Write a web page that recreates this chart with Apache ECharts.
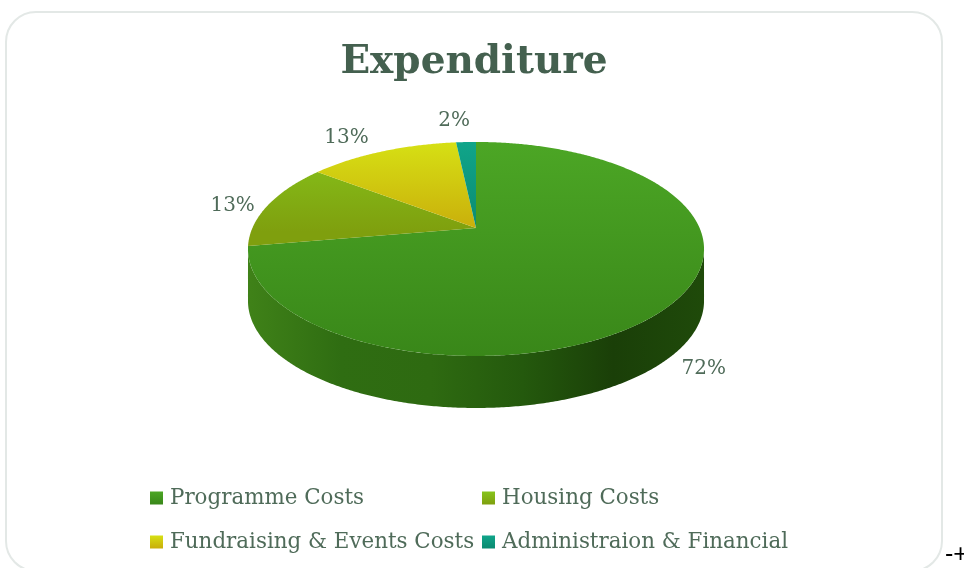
<!DOCTYPE html>
<html><head><meta charset="utf-8">
<style>html,body{margin:0;padding:0;background:#fff;overflow:hidden}#c{width:964px;height:568px}</style>
<script src="https://cdn.jsdelivr.net/npm/echarts@6/dist/echarts.min.js"></script>
</head><body><div id="c"></div>
<script>
const categories = ['Programme Costs', 'Housing Costs', 'Fundraising & Events Costs', 'Administraion & Financial'];
const values = [72.3, 13.1, 12.9, 1.7];
const valueLabels = ['72%', '13%', '13%', '2%'];
const topColors = ['#4ca625', '#86c41c', '#d6e014', '#10a58a'];
const bottomColors = ['#398719', '#7f9f0e', '#c9ad0b', '#0a8a70'];
const labelOffsets = [[32, 65], [-36, 1], [-36, -14], [-12, -21]];

const ink = '#4f6b59';
const serif = '"DejaVu Serif", serif';
const cx = 476, cy = 228, b = 223.6, a = 102.9, k = 0.196, depth = 52;
const total = values.reduce((s, v) => s + v, 0);
const starts = values.map((v, i) => values.slice(0, i).reduce((s, x) => s + x, 0) / total * 360);
const rad = d => d * Math.PI / 180;
// perspective projection of the pie's unit circle, angle clockwise from top
function project(deg, dy) {
  const u = Math.sin(rad(deg)), v = Math.cos(rad(deg)), w = 1 + k * v;
  return [cx + b * u / w, cy - a * v / w + (dy || 0)];
}
const tR = Math.acos(-k) * 180 / Math.PI, tL = 360 - tR;
function grad(x, y, x2, y2, stops) {
  return { type: 'linear', x, y, x2, y2, global: true,
    colorStops: stops.map((c, i) => ({ offset: i / (stops.length - 1), color: c })) };
}
const sideFill = grad(250, 0, 704, 0, ['#3f8118', '#2f6d12', '#2e6a11', '#24590d', '#1a3f08', '#1f4a0a']);
function arc(from, to, dy) {
  const n = Math.max(2, Math.ceil(Math.abs(to - from) * 2)), out = [];
  for (let i = 0; i <= n; i++) out.push(project(from + (to - from) * i / n, dy));
  return out;
}
function renderSlice(idx) {
  return function () {
    const s = starts[idx], e = s + values[idx] / total * 360, kids = [];
    const sa = Math.max(s, tR), ea = Math.min(e, tL);
    if (ea > sa) {
      kids.push({ type: 'polygon', shape: { points: arc(sa, ea, depth).concat(arc(ea, sa, 0)) },
        style: { fill: sideFill } });
    }
    kids.push({ type: 'polygon', shape: { points: [[cx, cy]].concat(arc(s, e, 0)) },
      style: { fill: grad(0, 142, 0, idx === 0 ? 356 : 232, [topColors[idx], bottomColors[idx]]) } });
    const m = project((s + e) / 2);
    kids.push({ type: 'text', z2: 20, style: { text: valueLabels[idx],
      x: m[0] + labelOffsets[idx][0], y: m[1] + labelOffsets[idx][1],
      fill: ink, font: '20px ' + serif, align: 'center', verticalAlign: 'middle' } });
    return { type: 'group', children: kids };
  };
}
const series = categories.map((name, i) => ({
  type: 'custom', name, coordinateSystem: 'none', silent: true,
  data: [[values[i]]], renderItem: renderSlice(i),
  itemStyle: { color: topColors[i] }
}));
function legendItem(i) {
  return { name: categories[i], itemStyle: { color: { type: 'linear', x: 0, y: 0, x2: 0, y2: 1,
    colorStops: [{ offset: 0, color: topColors[i] }, { offset: 1, color: bottomColors[i] }] } } };
}
function legend(left, ids) {
  return { orient: 'vertical', left, top: 484, itemWidth: 13, itemHeight: 13, itemGap: 16, icon: 'rect',
    selectedMode: false, padding: 0, data: ids.map(legendItem),
    textStyle: { color: ink, fontFamily: serif, fontSize: 21.4, padding: [0, 0, 0, 2], lineHeight: 28 } };
}
const chart = echarts.init(document.getElementById('c'), null, { renderer: 'canvas' });
chart.setOption({
  animation: false,
  backgroundColor: '#fff',
  title: { text: 'Expenditure', left: 474, top: 43, textAlign: 'center', padding: 0,
    textStyle: { color: '#44604f', fontFamily: serif, fontSize: 39, fontWeight: 'bold' } },
  legend: [legend(150, [0, 2]), legend(482, [1, 3])],
  graphic: [
    { type: 'rect', silent: true, z: -1, shape: { x: 6, y: 12, width: 936, height: 559, r: 30 },
      style: { fill: '#fff', stroke: '#e3e8e6', lineWidth: 2 } },
    { type: 'text', silent: true, style: { text: '-+', x: 945, y: 568, fill: '#000',
      font: '25px "Liberation Sans", sans-serif', textVerticalAlign: 'bottom' } }
  ],
  series
});
</script></body></html>
